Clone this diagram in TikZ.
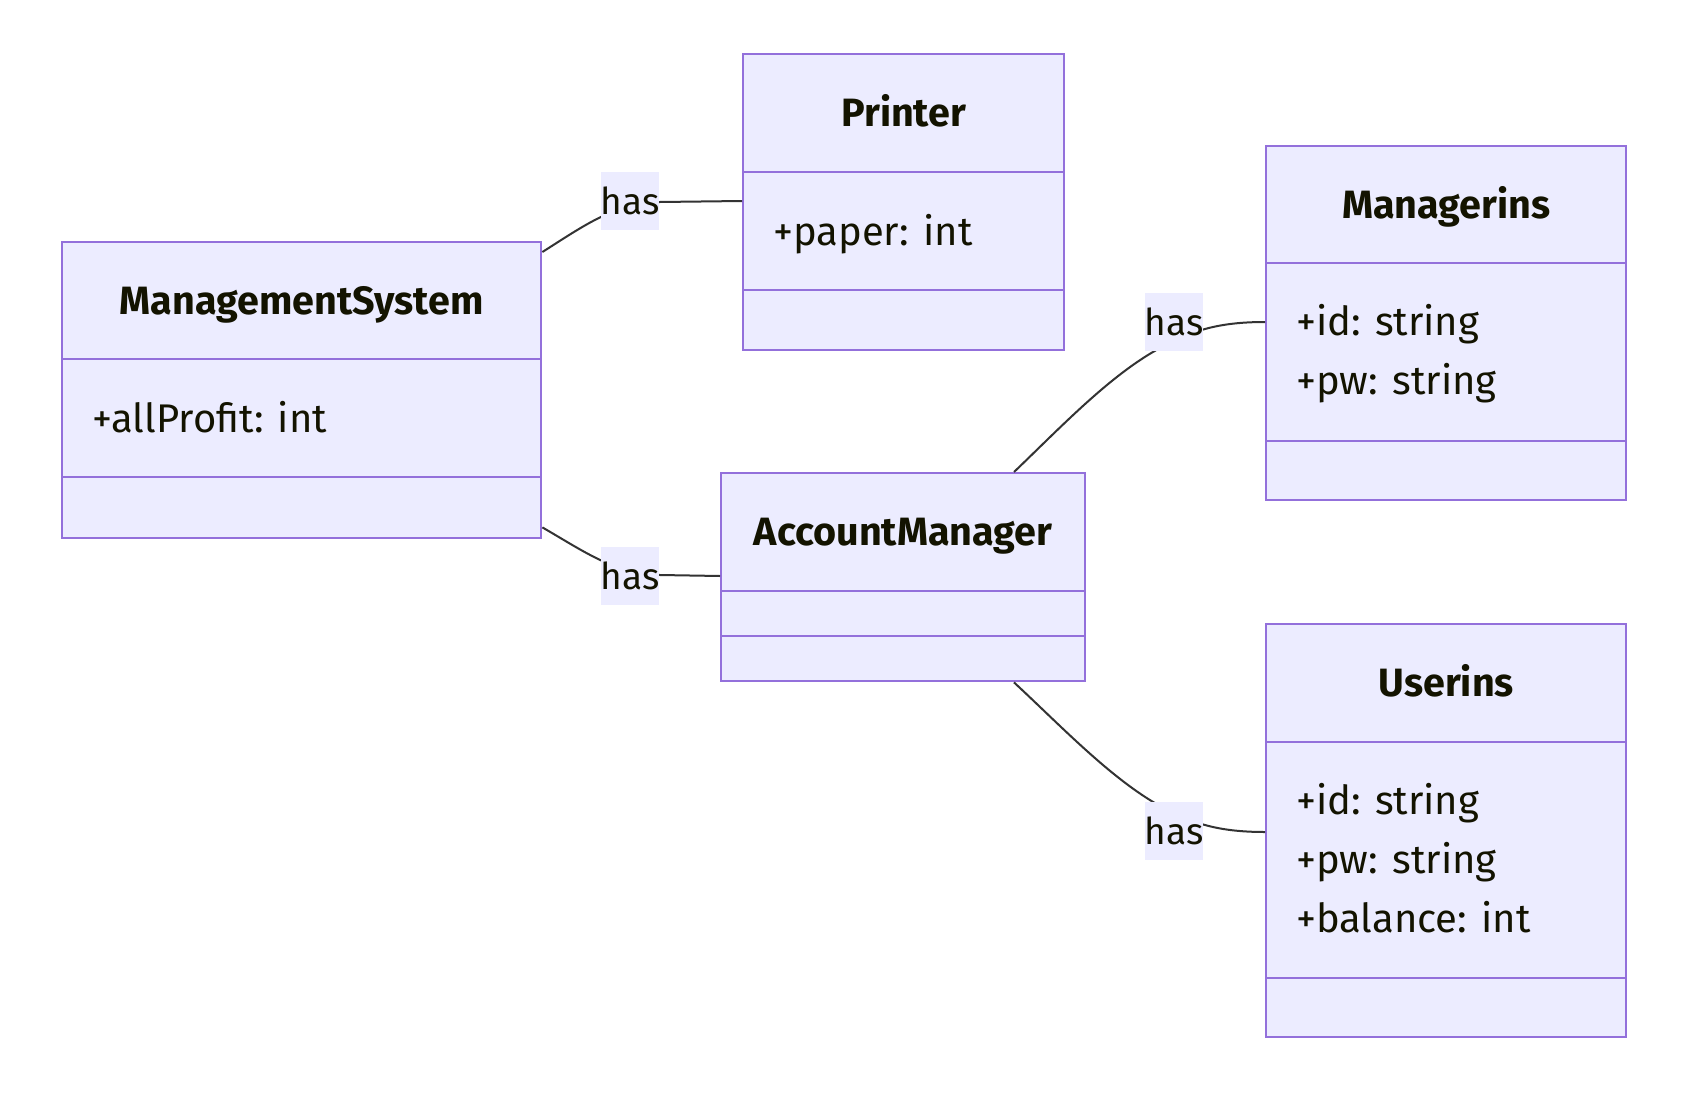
\documentclass[tikz,border=0pt]{standalone}
\usepackage{fontspec}
\setmainfont{Fira Sans}
\usetikzlibrary{calc}
\definecolor{clsfill}{HTML}{ECECFF}
\definecolor{clsdraw}{HTML}{9370DB}
\definecolor{edgecol}{HTML}{333333}
\definecolor{txtcol}{HTML}{131300}
\definecolor{lblbg}{HTML}{ECECFF}
\tikzset{
  clsbox/.style={draw=clsdraw, fill=clsfill, line width=2.4pt, inner sep=0pt, anchor=north west},
  clsline/.style={draw=clsdraw, line width=2.4pt},
  clstitle/.style={font=\fontsize{39.5}{46}\selectfont\bfseries, text=txtcol, inner sep=0pt, anchor=base},
  clsattr/.style={font=\fontsize{40}{46}\selectfont, text=txtcol, inner sep=0pt, anchor=base west},
  lbl/.style={fill=lblbg, font=\fontsize{37}{44}\selectfont, text=txtcol, inner sep=0pt, minimum width=58pt, minimum height=58pt},
  edge/.style={draw=edgecol, line width=2pt}
}
\begin{document}
\begin{tikzpicture}[x=1pt,y=-1pt]
\useasboundingbox[fill=white] (0,0) rectangle (1686,1100);
% ManagementSystem
\node[clsbox, minimum width=479pt, minimum height=296pt] (ms) at (61,241) {};
\draw[clsline] ($(ms.north west)+(0,118)$) -- ($(ms.north east)+(0,118)$);
\draw[clsline] ($(ms.north west)+(0,236)$) -- ($(ms.north east)+(0,236)$);
\node[clstitle] (mst) at ($(ms.north)+(0,73)$) {ManagementSystem};
\node[clsattr] (msa) at ($(ms.north west)+(31,191)$) {+allProfit: int};
% Printer
\node[clsbox, minimum width=321pt, minimum height=296pt] (pr) at (742,53) {};
\draw[clsline] ($(pr.north west)+(0,119)$) -- ($(pr.north east)+(0,119)$);
\draw[clsline] ($(pr.north west)+(0,237)$) -- ($(pr.north east)+(0,237)$);
\node[clstitle] (prt) at ($(pr.north)+(0,73)$) {Printer};
\node[clsattr] (pra) at ($(pr.north west)+(31,192)$) {+paper: int};
% Managerins
\node[clsbox, minimum width=360pt, minimum height=354pt] (mi) at (1265,145) {};
\draw[clsline] ($(mi.north west)+(0,118)$) -- ($(mi.north east)+(0,118)$);
\draw[clsline] ($(mi.north west)+(0,296)$) -- ($(mi.north east)+(0,296)$);
\node[clstitle] (mit) at ($(mi.north)+(0,73)$) {Managerins};
\node[clsattr] (mia1) at ($(mi.north west)+(31,190)$) {+id: string};
\node[clsattr] (mia2) at ($(mi.north west)+(31,249)$) {+pw: string};
% AccountManager
\node[clsbox, minimum width=364pt, minimum height=208pt] (am) at (720,472) {};
\draw[clsline] ($(am.north west)+(0,119)$) -- ($(am.north east)+(0,119)$);
\draw[clsline] ($(am.north west)+(0,164)$) -- ($(am.north east)+(0,164)$);
\node[clstitle] (amt) at ($(am.north)+(0,73)$) {AccountManager};
% Userins
\node[clsbox, minimum width=360pt, minimum height=413pt] (ui) at (1265,623) {};
\draw[clsline] ($(ui.north west)+(0,119)$) -- ($(ui.north east)+(0,119)$);
\draw[clsline] ($(ui.north west)+(0,355)$) -- ($(ui.north east)+(0,355)$);
\node[clstitle] (uit) at ($(ui.north)+(0,73)$) {Userins};
\node[clsattr] (uia1) at ($(ui.north west)+(31,191)$) {+id: string};
\node[clsattr] (uia2) at ($(ui.north west)+(31,250)$) {+pw: string};
\node[clsattr] (uia3) at ($(ui.north west)+(31,309)$) {+balance: int};
% edges
\coordinate (e1s) at ($(ms.north east)+(0,11)$);
\coordinate (e1e) at ($(pr.north west)+(0,148)$);
\draw[edge] (e1s) .. controls (585,225) and (615,203) .. (660,202) -- (e1e);
\coordinate (e2s) at ($(ms.south east)+(0,-12)$);
\coordinate (e2e) at ($(am.north west)+(0,104)$);
\draw[edge] (e2s) .. controls (585,552) and (615,574) .. (660,575) -- (e2e);
\coordinate (e3s) at ($(am.north west)+(294,0)$);
\coordinate (e3e) at ($(mi.north west)+(0,177)$);
\draw[edge] (e3s) .. controls (1060,428) and (1110,375) .. (1160,348) .. controls (1190,332) and (1215,322) .. (e3e);
\coordinate (e4s) at ($(am.south west)+(294,0)$);
\coordinate (e4e) at ($(ui.north west)+(0,209)$);
\draw[edge] (e4s) .. controls (1060,725) and (1110,778) .. (1160,806) .. controls (1190,822) and (1215,832) .. (e4e);
% labels
\node[lbl] (l1) at (630,201) {has};
\node[lbl] (l2) at (630,576) {has};
\node[lbl] (l3) at (1174,322) {has};
\node[lbl] (l4) at (1174,831) {has};
\end{tikzpicture}
\end{document}
